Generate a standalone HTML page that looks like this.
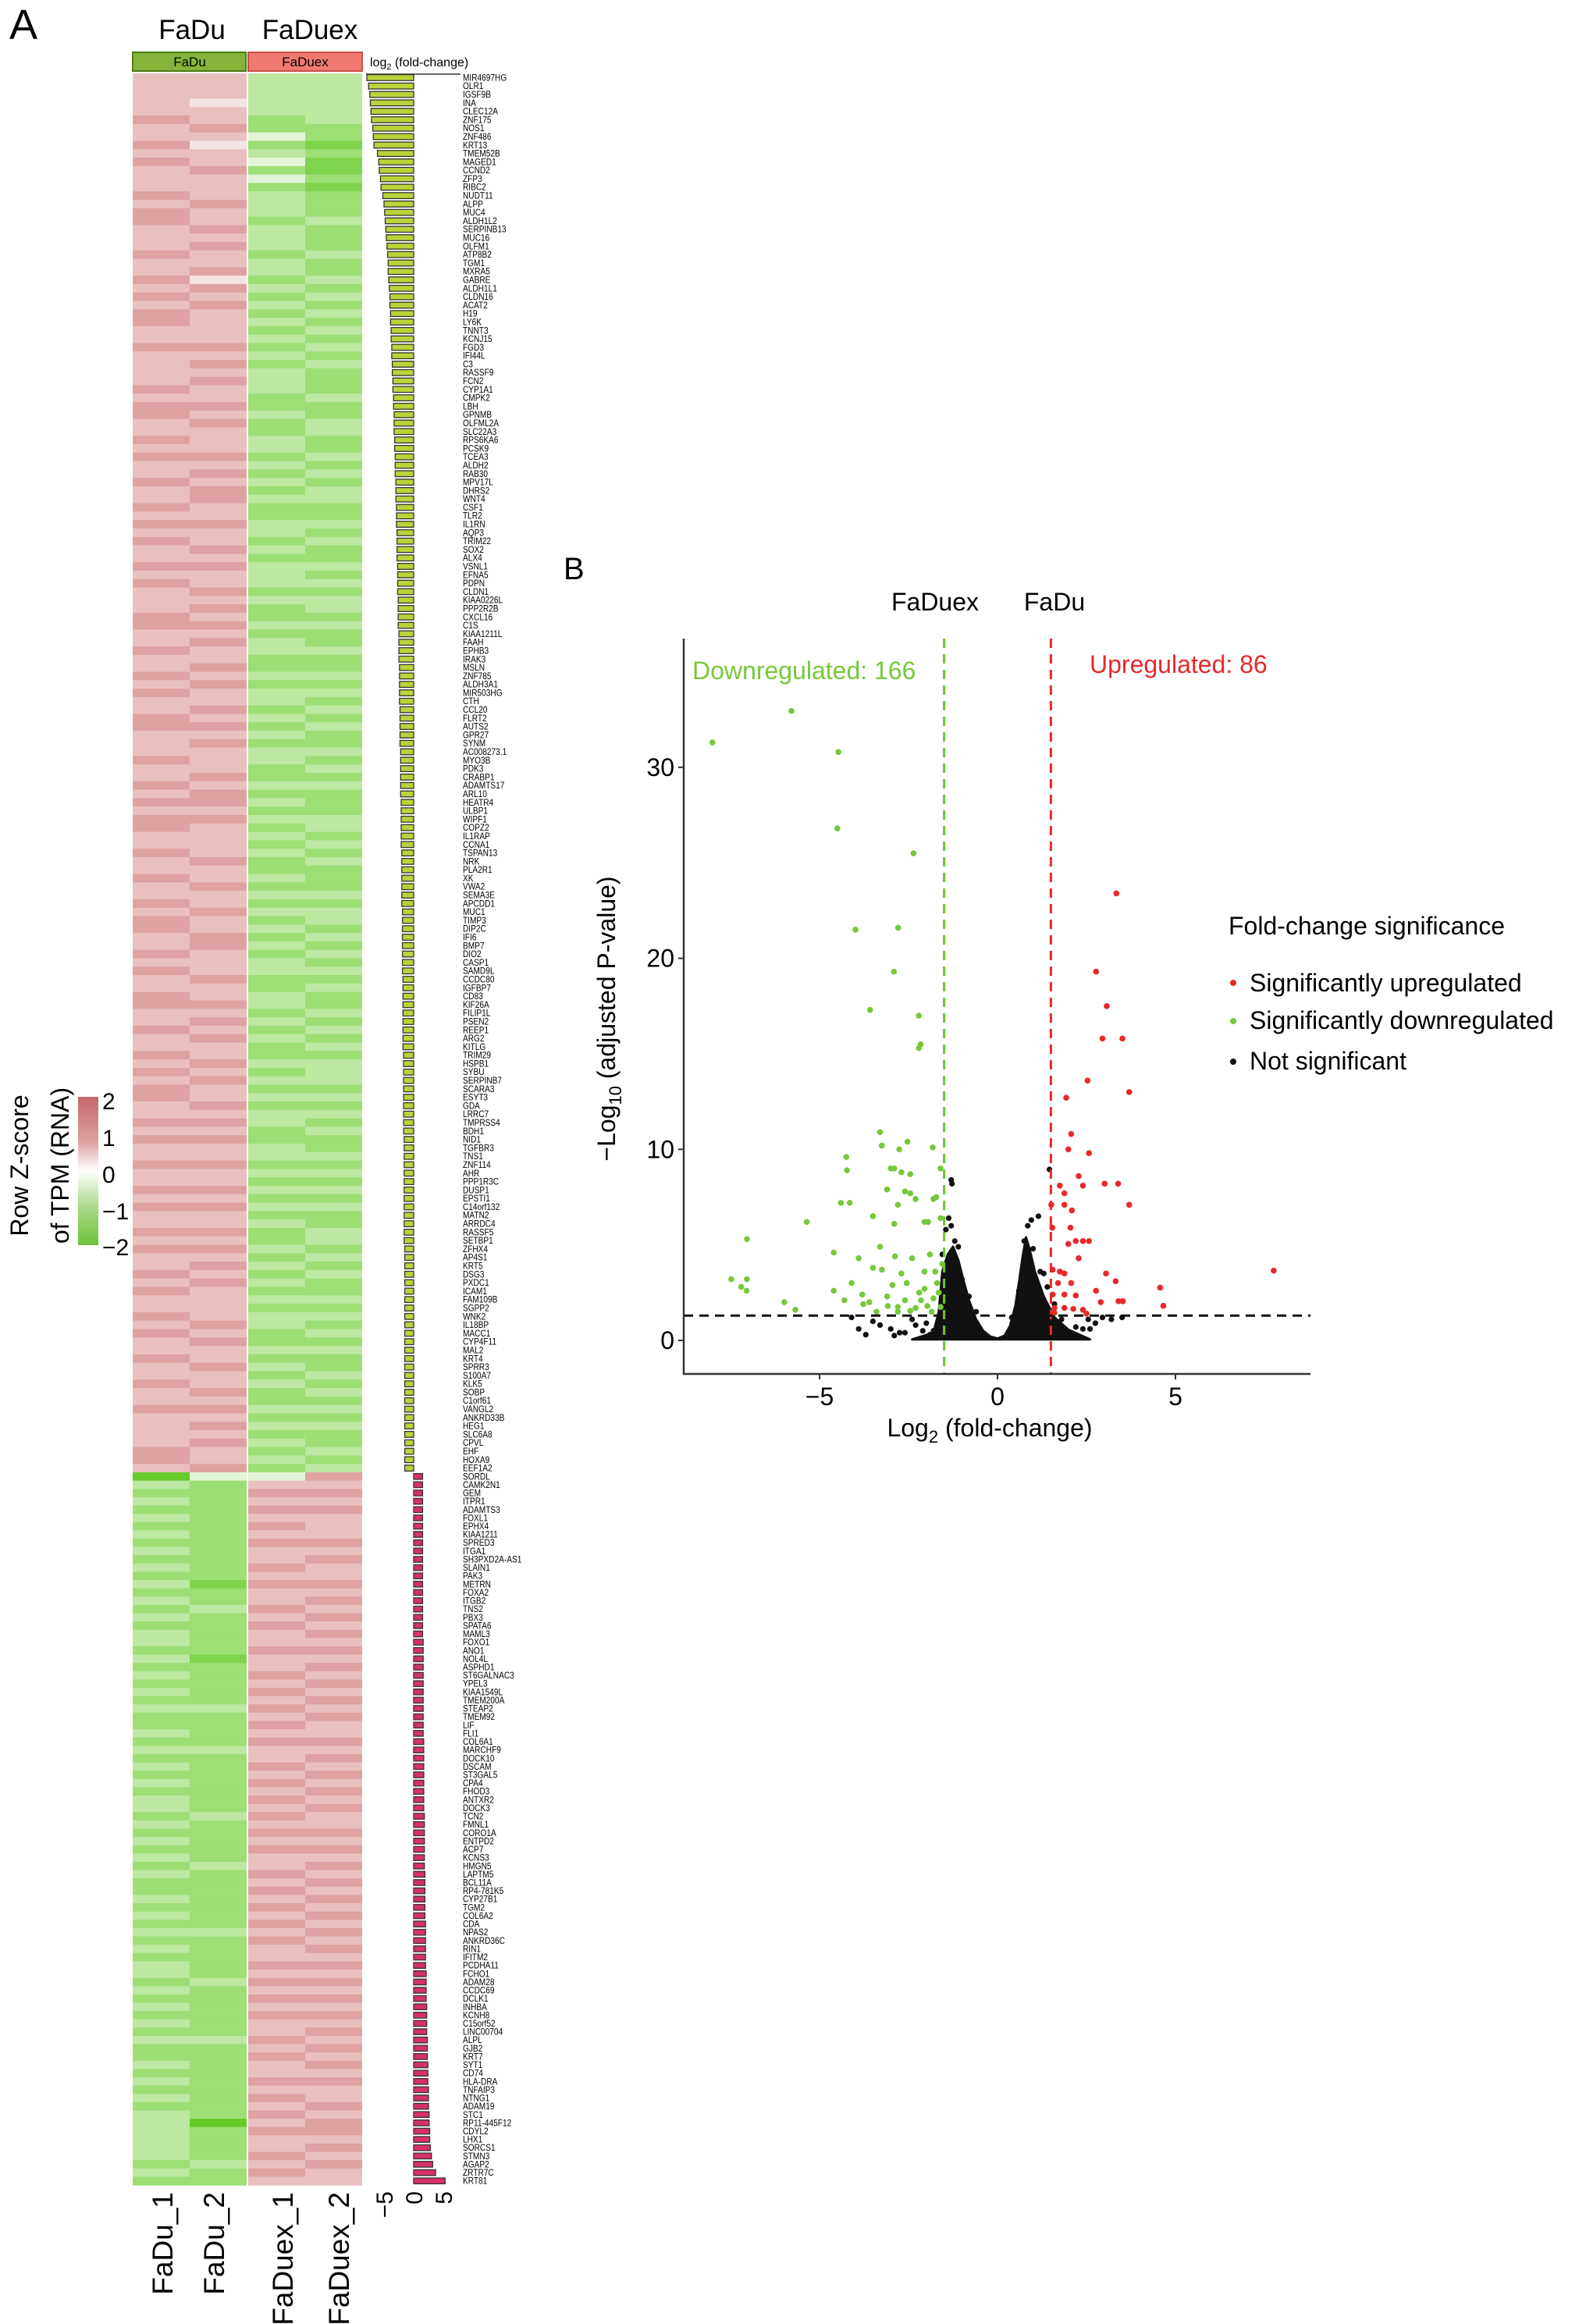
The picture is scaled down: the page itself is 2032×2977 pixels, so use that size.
<!DOCTYPE html>
<html><head><meta charset="utf-8">
<style>
html,body{margin:0;padding:0;background:#fff;}
svg{display:block;font-family:"Liberation Sans",Arial,sans-serif;}
</style></head>
<body>
<svg id="fig" width="2032" height="2977" viewBox="0 0 2032 2977" xmlns="http://www.w3.org/2000/svg">
<rect width="2032" height="2977" fill="#fff"/>
<text x="12" y="50" font-size="54">A</text>
<text x="246" y="50" font-size="35" text-anchor="middle">FaDu</text>
<text x="397" y="50" font-size="35" text-anchor="middle">FaDuex</text>
<rect x="170" y="67" width="145" height="24" fill="#86b43a" stroke="#4d7d16" stroke-width="2"/>
<text x="243" y="85" font-size="17" text-anchor="middle">FaDu</text>
<rect x="318" y="67" width="146" height="24" fill="#f07a72" stroke="#c9504a" stroke-width="2"/>
<text x="391" y="85" font-size="17" text-anchor="middle">FaDuex</text>
<text x="474" y="85" font-size="16">log<tspan font-size="11" dy="4">2</tspan><tspan dy="-4"> (fold-change)</tspan></text>
<line x1="469" y1="95" x2="590" y2="95" stroke="#666" stroke-width="2"/>
<g id="heat"></g>
<g id="bars"></g>
<g id="genes"></g>
<g font-size="37">
<text transform="translate(221,2808) rotate(-90)" text-anchor="end">FaDu_1</text>
<text transform="translate(287,2808) rotate(-90)" text-anchor="end">FaDu_2</text>
<text transform="translate(375,2808) rotate(-90)" text-anchor="end">FaDuex_1</text>
<text transform="translate(447,2808) rotate(-90)" text-anchor="end">FaDuex_2</text>
</g>
<g id="barticks" font-size="30"></g>
<defs><linearGradient id="cbg" x1="0" y1="0" x2="0" y2="1">
<stop offset="0" stop-color="#c4676a"/><stop offset="0.3" stop-color="#dea0a2"/><stop offset="0.5" stop-color="#ffffff"/><stop offset="0.75" stop-color="#a8d886"/><stop offset="1" stop-color="#6cc33a"/></linearGradient></defs>
<rect x="100" y="1405" width="26" height="190" fill="url(#cbg)"/>
<g font-size="30">
<text x="131" y="1421">2</text><text x="131" y="1468">1</text><text x="131" y="1515">0</text><text x="131" y="1562">−1</text><text x="131" y="1608">−2</text>
</g>
<text transform="translate(36,1493) rotate(-90)" font-size="32" text-anchor="middle">Row Z-score</text>
<text transform="translate(88,1493) rotate(-90)" font-size="32" text-anchor="middle">of TPM (RNA)</text>

<text x="722" y="742" font-size="40">B</text>
<g id="volcano"></g>
</svg>
<script>
// ---------- Heatmap data (digit d -> z = -2 + d*4/9) ----------
const fadu1Down = "6666676676766676776667667676776676666767766767667667676766767666776676676766776667667676776676676676776676766776676676767766767667667676676766767667676676676676666776767667667667676";
const fadu2Down = "6665667656676667667676675767666676767667676667676776676676766767676766767667676766676776766667667667667766676676767667676676767667667676676767676666767667667676767667676767676676767667";
const fx1Down = "3333322423424233323332332323232323233322322332323232233232333232232332232332323233223232323232232323232323322332323223232323322332323232322323232323322323232232323232323223";
const fx2Down = "3333332212112122232223223232323232322232233223232332232322323233232232232323232232323222332323222323323232323223232323332323232232323232233232322323232322323232322323232323232";
const fadu1Up = "03232323232323232323323232323223232323233232323232232323232332323232322323232333333232";
const fadu2Up = "42222222222221223222221222223222232222222322222322222223222223222222322222222202222322232";
const fx1Up = "46767676766767667676676676767676766767676767676676767676766767676766767667676767667676";
const fx2Up = "76767666767667676767676767676766767676767667676767676767676767676767676767667677676766";
// ---------- Bar data (log2 fold-change) ----------
const downFC = [-7.9,-7.6,-7.4,-7.3,-7.2,-7.1,-6.9,-6.8,-6.7,-6.1,-5.9,-5.8,-5.6,-5.5,-5.2,-5.0,-4.9,-4.8,-4.7,-4.6,-4.5,-4.4,-4.3,-4.3,-4.2,-4.1,-4.0,-4.0,-3.9,-3.9,-3.8,-3.8,-3.7,-3.7,-3.6,-3.6,-3.5,-3.5,-3.4,-3.4,-3.3,-3.3,-3.3,-3.2,-3.2,-3.1,-3.1,-3.1,-3.0,-3.0,-3.0,-2.9,-2.9,-2.9,-2.8,-2.8,-2.8,-2.8,-2.7,-2.7,-2.7,-2.7,-2.6,-2.6,-2.6,-2.6,-2.5,-2.5,-2.5,-2.5,-2.4,-2.4,-2.4,-2.4,-2.4,-2.3,-2.3,-2.3,-2.3,-2.3,-2.2,-2.2,-2.2,-2.2,-2.2,-2.2,-2.1,-2.1,-2.1,-2.1,-2.1,-2.1,-2.0,-2.0,-2.0,-2.0,-2.0,-2.0,-2.0,-1.9,-1.9,-1.9,-1.9,-1.9,-1.9,-1.9,-1.9,-1.8,-1.8,-1.8,-1.8,-1.8,-1.8,-1.8,-1.8,-1.8,-1.7,-1.7,-1.7,-1.7,-1.7,-1.7,-1.7,-1.7,-1.7,-1.7,-1.6,-1.6,-1.6,-1.6,-1.6,-1.6,-1.6,-1.6,-1.6,-1.6,-1.6,-1.6,-1.6,-1.5,-1.5,-1.5,-1.5,-1.5,-1.5,-1.5,-1.5,-1.5,-1.5,-1.5,-1.5,-1.5,-1.5,-1.5,-1.5,-1.5,-1.5,-1.5,-1.5,-1.5,-1.5,-1.5,-1.5,-1.5,-1.5,-1.5];
const upFC = [1.5,1.5,1.5,1.5,1.5,1.5,1.5,1.5,1.5,1.5,1.5,1.5,1.5,1.5,1.5,1.5,1.5,1.5,1.5,1.5,1.6,1.6,1.6,1.6,1.6,1.6,1.6,1.6,1.6,1.6,1.6,1.6,1.7,1.7,1.7,1.7,1.7,1.7,1.7,1.7,1.7,1.8,1.8,1.8,1.8,1.8,1.8,1.8,1.9,1.9,1.9,1.9,1.9,1.9,2.0,2.0,2.0,2.0,2.0,2.0,2.1,2.1,2.1,2.1,2.2,2.2,2.2,2.2,2.3,2.3,2.3,2.4,2.4,2.4,2.5,2.5,2.5,2.6,2.6,2.7,2.7,2.8,3.0,3.2,3.7,5.3];
const barTicks = [-5,0,5];
// ---------- Gene labels ----------
const downGenes = ["MIR4697HG","OLR1","IGSF9B","INA","CLEC12A","ZNF175","NOS1","ZNF486","KRT13","TMEM52B","MAGED1","CCND2","ZFP3","RIBC2","NUDT11","ALPP","MUC4","ALDH1L2","SERPINB13","MUC16","OLFM1","ATP8B2","TGM1","MXRA5","GABRE","ALDH1L1","CLDN16","ACAT2","H19","LY6K","TNNT3","KCNJ15","FGD3","IFI44L","C3","RASSF9","FCN2","CYP1A1","CMPK2","LBH","GPNMB","OLFML2A","SLC22A3","RPS6KA6","PCSK9","TCEA3","ALDH2","RAB30","MPV17L","DHRS2","WNT4","CSF1","TLR2","IL1RN","AQP3","TRIM22","SOX2","ALX4","VSNL1","EFNA5","PDPN","CLDN1","KIAA0226L","PPP2R2B","CXCL16","C1S","KIAA1211L","FAAH","EPHB3","IRAK3","MSLN","ZNF785","ALDH3A1","MIR503HG","CTH","CCL20","FLRT2","AUTS2","GPR27","SYNM","AC008273.1","MYO3B","PDK3","CRABP1","ADAMTS17","ARL10","HEATR4","ULBP1","WIPF1","COPZ2","IL1RAP","CCNA1","TSPAN13","NRK","PLA2R1","XK","VWA2","SEMA3E","APCDD1","MUC1","TIMP3","DIP2C","IFI6","BMP7","DIO2","CASP1","SAMD9L","CCDC80","IGFBP7","CD83","KIF26A","FILIP1L","PSEN2","REEP1","ARG2","KITLG","TRIM29","HSPB1","SYBU","SERPINB7","SCARA3","ESYT3","GDA","LRRC7","TMPRSS4","BDH1","NID1","TGFBR3","TNS1","ZNF114","AHR","PPP1R3C","DUSP1","EPSTI1","C14orf132","MATN2","ARRDC4","RASSF5","SETBP1","ZFHX4","AP4S1","KRT5","DSG3","PXDC1","ICAM1","FAM109B","SGPP2","WNK2","IL18BP","MACC1","CYP4F11","MAL2","KRT4","SPRR3","S100A7","KLK5","SOBP","C1orf61","VANGL2","ANKRD33B","HEG1","SLC6A8","CPVL","EHF","HOXA9","EEF1A2"];
const upGenes = ["SORDL","CAMK2N1","GEM","ITPR1","ADAMTS3","FOXL1","EPHX4","KIAA1211","SPRED3","ITGA1","SH3PXD2A-AS1","SLAIN1","PAK3","METRN","FOXA2","ITGB2","TNS2","PBX3","SPATA6","MAML3","FOXO1","ANO1","NOL4L","ASPHD1","ST6GALNAC3","YPEL3","KIAA1549L","TMEM200A","STEAP2","TMEM92","LIF","FLI1","COL6A1","MARCHF9","DOCK10","DSCAM","ST3GAL5","CPA4","FHOD3","ANTXR2","DOCK3","TCN2","FMNL1","CORO1A","ENTPD2","ACP7","KCNS3","HMGN5","LAPTM5","BCL11A","RP4-781K5","CYP27B1","TGM2","COL6A2","CDA","NPAS2","ANKRD36C","RIN1","IFITM2","PCDHA11","FCHO1","ADAM28","CCDC69","DCLK1","INHBA","KCNH8","C15orf52","LINC00704","ALPL","GJB2","KRT7","SYT1","CD74","HLA-DRA","TNFAIP3","NTNG1","ADAM19","STC1","RP11-445F12","CDYL2","LHX1","SORCS1","STMN3","AGAP2","ZRTR7C","KRT81"];

// ---------- Volcano data ----------
const greenX = [-8.01,-5.79,-4.47,-4.5,-2.36,-3.99,-2.79,-2.91,-3.58,-2.21,-2.21,-2.16,-3.3,-4.25,-4.23,-2.53,-2.76,-1.82,-3.25,-3.0,-2.9,-2.7,-2.45,-1.6,-3.1,-2.6,-2.45,-2.8,-2.3,-1.8,-1.72,-4.4,-4.15,-3.5,-5.36,-2.9,-2.05,-1.95,-1.6,-7.04,-3.3,-4.6,-3.9,-2.88,-2.4,-1.9,-3.5,-3.25,-2.7,-2.05,-1.75,-7.48,-7.04,-7.2,-7.05,-4.1,-4.6,-2.55,-2.05,-1.7,-4.3,-3.8,-3.1,-2.6,-2.15,-1.8,-5.99,-5.68,-3.77,-3.08,-2.8,-2.3,-1.97,-1.6,-3.4,-2.8,-2.45,-1.85,-2.2,-1.65,-1.55,-2.95,-3.6];
const greenY = [31.3,32.95,30.8,26.8,25.5,21.5,21.6,19.3,17.3,17.0,15.3,15.5,10.9,9.6,8.9,10.4,10.0,10.1,10.2,9.0,9.0,8.8,8.7,9.0,7.9,7.8,7.7,7.1,7.4,7.4,7.5,7.2,7.2,6.5,6.2,6.1,6.2,6.2,6.4,5.3,4.9,4.6,4.3,4.4,4.3,4.5,3.8,3.7,3.5,3.6,3.6,3.2,3.2,2.8,2.6,3.0,2.6,3.0,2.7,3.0,2.1,2.4,2.3,2.1,2.1,2.2,2.0,1.6,1.9,1.8,1.75,1.7,1.8,1.75,1.5,1.5,1.55,1.5,2.5,2.5,4.0,2.9,2.0];
const redX = [3.34,2.77,3.07,2.95,3.51,2.53,3.7,1.93,2.07,1.99,2.57,2.28,1.75,2.4,3.01,3.39,1.88,1.88,1.51,3.7,2.09,2.05,1.54,2.2,2.4,2.57,1.99,2.28,1.55,1.75,1.88,3.05,3.32,7.76,4.57,4.66,1.7,2.07,1.55,1.88,2.2,2.77,3.4,3.52,1.6,1.88,2.13,2.4,2.9,1.6,2.5];
const redY = [23.4,19.3,17.5,15.8,15.8,13.6,13.0,12.7,10.8,10.0,9.8,8.6,8.1,8.1,8.2,8.2,7.7,7.1,7.1,7.1,6.8,5.9,5.9,5.2,5.2,5.2,5.05,4.3,3.7,3.6,3.5,3.5,3.1,3.65,2.76,1.81,3.0,3.0,2.4,2.4,2.35,2.6,2.05,2.05,1.7,1.7,1.65,1.6,2.0,1.45,1.4];
const blackX = [1.46,-1.3,-1.28,-1.37,1.15,-3.9,-3.7,-2.9,-2.75,-2.1,2.55,2.75,2.95,2.2,-3.3,-4.1,-1.45,-1.55,-1.5,-1.2,-1.1,-1.3,0.95,0.85,0.75,1.0,1.2,1.4,-1.65,-2.3,-2.6,3.2,3.5,-0.8,-0.6,0.6,0.4,-1.0,1.3,1.6,1.8,2.4,-1.9,-2.0,-1.8,2.1,2.6,-3.5,-3.0,-2.4];
const blackY = [8.95,8.4,8.2,6.4,6.5,0.6,0.3,0.25,0.4,0.5,1.1,0.9,1.2,0.7,0.8,1.2,5.8,4.5,3.0,5.2,4.9,6.0,6.3,6.0,5.2,4.8,3.6,2.8,1.0,0.8,0.4,1.1,1.2,2.3,1.5,2.6,1.2,3.2,3.5,1.9,1.1,0.6,0.3,0.9,0.5,0.3,0.6,1.0,0.6,1.1];
const cloudX = [-2.4,-1.8,-1.65,-1.55,-1.4,-1.25,-1.1,-0.95,-0.8,-0.6,-0.4,-0.2,0,0.2,0.35,0.5,0.6,0.7,0.8,0.9,1.05,1.3,1.6,2.0,2.6];
const cloudY = [0.05,0.4,1.5,3.6,4.5,4.9,4.2,3.1,2.1,1.1,0.5,0.2,0.1,0.25,0.75,1.8,3.0,4.3,5.4,4.8,3.6,2.3,1.2,0.55,0.05];
const xTicks = [-5,0,5];
const yTicks = [0,10,20,30];
const fcThresh = 1.5, pThresh = 1.3;

const NS = "http://www.w3.org/2000/svg";
function mk(tag, attrs, parent){const e=document.createElementNS(NS,tag);for(const k in attrs)e.setAttribute(k,attrs[k]);parent.appendChild(e);return e;}

// ---------- Heatmap ----------
const nDown = downGenes.length, nUp = upGenes.length;
const rowTop = 94, splitY = 1886, rowBottom = 2799;
const rowHD = (splitY-rowTop)/nDown, rowHU = (rowBottom-splitY)/nUp;
function rowY(r){return r<nDown ? rowTop+r*rowHD : splitY+(r-nDown)*rowHU;}
function rowH(r){return r<nDown ? rowHD : rowHU;}
const colX = [170,243,318,391], colW = [73,73,73,73];
function zColor(z){
  if(z>=0){const t=Math.pow(Math.min(z/2,1),0.75);return `rgb(${Math.round(255-51*t)},${Math.round(255-145*t)},${Math.round(255-143*t)})`;}
  const t=Math.pow(Math.min(-z/2,1),0.75);return `rgb(${Math.round(255-153*t)},${Math.round(255-52*t)},${Math.round(255-215*t)})`;
}
function dz(ch){return -2+parseInt(ch,10)*4/9;}
const heat=document.getElementById('heat');
const cols=[[fadu1Down,fadu1Up],[fadu2Down,fadu2Up],[fx1Down,fx1Up],[fx2Down,fx2Up]];
for(let c=0;c<4;c++){
  for(let r=0;r<nDown+nUp;r++){
    const s = r<nDown ? cols[c][0] : cols[c][1];
    const idx = r<nDown ? r : r-nDown;
    const ch = s[idx % s.length];
    const cell=mk('rect',{x:colX[c],y:rowY(r).toFixed(2),width:colW[c],height:(rowH(r)+0.6).toFixed(2),fill:zColor(dz(ch))},heat);
    
    
  }
}
// ---------- Bars ----------
const bx0 = 530, bxs = 7.6;
function bx(v){return bx0+v*bxs;}
const bars=document.getElementById('bars');
const allFC = downFC.slice(0,nDown).concat(upFC.slice(0,nUp));
allFC.forEach((v,i)=>{
  const y = rowY(i)+rowH(i)*0.15;
  const x1=Math.min(bx(0),bx(v)), w=Math.abs(bx(v)-bx(0));
  const b=mk('rect',{x:x1.toFixed(1),y:y.toFixed(1),width:w.toFixed(1),height:(rowH(i)*0.7).toFixed(1),fill:v<0?'#b8d43a':'#d8306a',stroke:'#333','stroke-width':1.3},bars);
  
  
});
const bt=document.getElementById('barticks');
barTicks.forEach(t=>{
  const tx=mk('text',{transform:`translate(${bx(t)+11},2807) rotate(-90)`,'text-anchor':'end'},bt);
  tx.textContent = t<0 ? '−'+Math.abs(t) : String(t);
  
  
});
// ---------- Gene labels ----------
const genes=document.getElementById('genes');
downGenes.concat(upGenes).forEach((g,i)=>{
  const t=mk('text',{x:593,y:(rowY(i)+rowH(i)*0.5+4).toFixed(1),'font-size':11.5,transform:`translate(${593*0.12},0) scale(0.88,1)`},genes);
  t.textContent=g;
  
  
});

// ---------- Volcano ----------
const vx0=1278, vxs=45.6, vy0=1717, vys=24.47;
function X(v){return vx0+v*vxs;}
function Y(v){return vy0-v*vys;}
const vg=document.getElementById('volcano');
let pts=cloudX.map((x,i)=>X(x).toFixed(1)+','+Y(cloudY[i]).toFixed(1)).join(' ');
const poly=mk('polygon',{points:pts,fill:'#111','stroke':'#111','stroke-width':3,'stroke-linejoin':'round'},vg);


blackX.forEach((x,i)=>{const c=mk('circle',{cx:X(x),cy:Y(blackY[i]),r:3.6,fill:'#111'},vg);

});
greenX.forEach((x,i)=>{const c=mk('circle',{cx:X(x),cy:Y(greenY[i]),r:3.8,fill:'#77c83a'},vg);

});
redX.forEach((x,i)=>{const c=mk('circle',{cx:X(x),cy:Y(redY[i]),r:3.8,fill:'#e8292a'},vg);

});
let l=mk('line',{x1:X(-fcThresh),y1:818,x2:X(-fcThresh),y2:1760,stroke:'#6cc530','stroke-width':3,'stroke-dasharray':'12,8'},vg);


l=mk('line',{x1:X(fcThresh),y1:818,x2:X(fcThresh),y2:1760,stroke:'#e8292a','stroke-width':3,'stroke-dasharray':'12,8'},vg);


l=mk('line',{x1:876,y1:Y(pThresh),x2:1679,y2:Y(pThresh),stroke:'#111','stroke-width':3,'stroke-dasharray':'12,8'},vg);


l=mk('line',{x1:876,y1:818,x2:876,y2:1761,stroke:'#333','stroke-width':2.5},vg);


l=mk('line',{x1:875,y1:1760,x2:1679,y2:1760,stroke:'#333','stroke-width':2.5},vg);


yTicks.forEach(t=>{
  const tk=mk('line',{x1:869,y1:Y(t),x2:876,y2:Y(t),stroke:'#333','stroke-width':2},vg);
  
  
  const tx=mk('text',{x:864,y:Y(t)+11,'font-size':32,'text-anchor':'end'},vg);
  tx.textContent=String(t);
  
  
});
xTicks.forEach(t=>{
  const tk=mk('line',{x1:X(t),y1:1760,x2:X(t),y2:1767,stroke:'#333','stroke-width':2},vg);
  
  
  const tx=mk('text',{x:X(t),y:1800,'font-size':32,'text-anchor':'middle'},vg);
  tx.textContent=t<0?'−'+Math.abs(t):String(t);
  
  
});
</script>
<svg style="position:absolute;left:0;top:0" width="2032" height="2977">
<g font-family="Liberation Sans, Arial, sans-serif">
<text x="1198" y="782" font-size="32" text-anchor="middle">FaDuex</text>
<text x="1351" y="782" font-size="32" text-anchor="middle">FaDu</text>
<text x="887" y="870" font-size="32" fill="#77c83a">Downregulated: 166</text>
<text x="1396" y="862" font-size="32" fill="#e8292a">Upregulated: 86</text>
<text transform="translate(788,1305) rotate(-90)" font-size="32" text-anchor="middle">−Log<tspan font-size="22" dy="8">10</tspan><tspan dy="-8"> (adjusted P-value)</tspan></text>
<text x="1268" y="1840" font-size="32" text-anchor="middle">Log<tspan font-size="22" dy="8">2</tspan><tspan dy="-8"> (fold-change)</tspan></text>
<text x="1574" y="1197" font-size="32">Fold-change significance</text>
<circle cx="1580" cy="1259" r="4" fill="#e8292a"/>
<text x="1601" y="1270" font-size="32">Significantly upregulated</text>
<circle cx="1580" cy="1308" r="4" fill="#77c83a"/>
<text x="1601" y="1318" font-size="32">Significantly downregulated</text>
<circle cx="1580" cy="1360" r="4" fill="#111"/>
<text x="1601" y="1370" font-size="32">Not significant</text>
</g>
</svg>
</body></html>
